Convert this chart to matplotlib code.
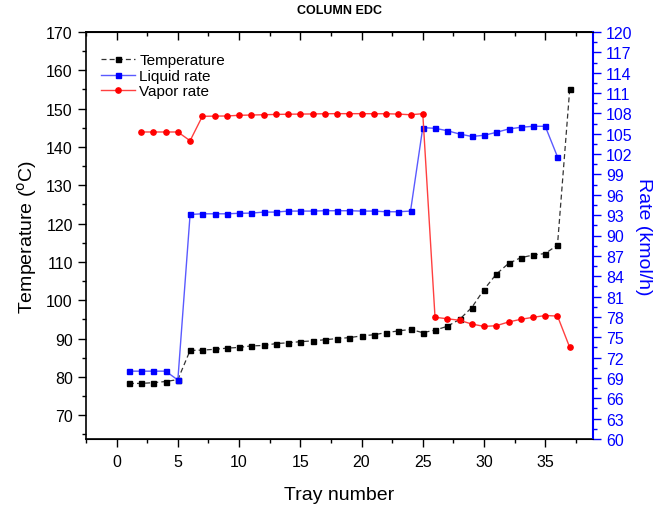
import matplotlib.pyplot as plt
from matplotlib.ticker import MultipleLocator
from matplotlib.lines import Line2D

plt.rcParams['font.family'] = ['Liberation Sans', 'DejaVu Sans']

# Temperature por plato
trays_t = list(range(1, 38))
temp = [78.3, 78.3, 78.5, 78.8, 79.3, 86.9, 87.0, 87.2, 87.5, 87.7,
        88.1, 88.2, 88.7, 88.9, 89.2, 89.4, 89.7, 90.0, 90.25, 90.7,
        91.0, 91.55, 92.0, 92.4, 91.55, 92.2, 93.2, 95.0, 98.1, 102.8,
        106.8, 109.6, 111.1, 111.8, 112.2, 114.4, 155.1]

# Liquid rate
trays_l = list(range(1, 37))
liquid = [70.0, 70.0, 70.0, 70.0, 68.7, 93.1, 93.2, 93.2, 93.2, 93.27,
          93.3, 93.45, 93.45, 93.6, 93.6, 93.6, 93.65, 93.65, 93.65, 93.6,
          93.6, 93.5, 93.5, 93.6, 105.9, 105.8, 105.45, 104.96, 104.6, 104.77,
          105.2, 105.7, 105.95, 106.1, 106.1, 101.6]

# Vapor rate
trays_v = list(range(2, 38))
vapor = [105.26, 105.26, 105.26, 105.26, 103.97, 107.57, 107.6, 107.62, 107.72, 107.76,
         107.8, 107.85, 107.88, 107.9, 107.92, 107.95, 107.96, 107.96, 107.96, 107.95,
         107.95, 107.9, 107.8, 107.96, 77.94, 77.73, 77.5, 76.95, 76.6, 76.7,
         77.25, 77.64, 77.94, 78.2, 78.13, 73.5]

fig = plt.figure(figsize=(6.63, 5.06), dpi=100)
ax = fig.add_axes([86/663, 66/506, 507/663, 407/506])
ax2 = ax.twinx()

ax.plot(trays_t, temp, color='#333333', ls=(0, (4, 2.5)), lw=0.9, marker='s', ms=3.6,
        mfc='black', mec='black', zorder=3)
ax2.plot(trays_l, liquid, color='#5a5aff', lw=1, marker='s', ms=3.6,
         mfc='blue', mec='blue')
ax2.plot(trays_v, vapor, color='#ff4040', lw=1, marker='o', ms=3.8,
         mfc='red', mec='red')

ax.set_xlim(-2.5, 38.9)
ax.set_ylim(63.8, 170)
ax2.set_ylim(60, 120)

ax.xaxis.set_major_locator(MultipleLocator(5))
ax.xaxis.set_minor_locator(MultipleLocator(2.5))
ax.yaxis.set_major_locator(MultipleLocator(10))
ax.yaxis.set_minor_locator(MultipleLocator(5))
ax2.yaxis.set_major_locator(MultipleLocator(3))
ax2.yaxis.set_minor_locator(MultipleLocator(1.5))

ax.tick_params(axis='x', which='major', direction='out', length=6, width=1, labelsize=11.5, pad=5)
ax.tick_params(axis='x', which='minor', direction='out', length=3, width=1)
ax.tick_params(axis='y', which='major', direction='out', length=6, width=1, labelsize=11.5)
ax.tick_params(axis='y', which='minor', direction='out', length=3, width=1)
ax2.tick_params(axis='y', which='major', direction='out', length=6, width=1,
                colors='blue', labelsize=11.5)
ax2.tick_params(axis='y', which='minor', direction='out', length=3, width=1, colors='blue')

# ticks on top edge pointing inward
top = ax.secondary_xaxis('top')
top.xaxis.set_major_locator(MultipleLocator(5))
top.xaxis.set_minor_locator(MultipleLocator(2.5))
top.tick_params(which='major', direction='in', length=6, width=1, labeltop=False)
top.tick_params(which='minor', direction='in', length=3, width=1)
top.spines['top'].set_linewidth(1.2)

for sp in ax.spines.values():
    sp.set_linewidth(1.2)
ax2.spines['right'].set_color('blue')
ax2.spines['right'].set_linewidth(1.5)
ax2.spines['left'].set_visible(False)

ax.set_xlabel('Tray number', fontsize=14, labelpad=12)
ax.set_ylabel('Temperature ($^{\\rm o}$C)', fontsize=14, labelpad=5)
ax2.set_ylabel('Rate (kmol/h)', fontsize=14, color='blue', rotation=-90, labelpad=14)
ax.set_title('COLUMN EDC', fontsize=9, fontweight='bold', pad=14)

handles = [
    Line2D([], [], color='#333333', ls=(0, (4, 2.5)), lw=0.9, marker='s', ms=3.6, mfc='black', mec='black'),
    Line2D([], [], color='#5a5aff', lw=1, marker='s', ms=3.6, mfc='blue', mec='blue'),
    Line2D([], [], color='#ff4040', lw=1, marker='o', ms=3.8, mfc='red', mec='red'),
]
ax.legend(handles, ['Temperature', 'Liquid rate', 'Vapor rate'], loc='upper left',
          frameon=False, fontsize=11, handlelength=2.2, handletextpad=0.3,
          labelspacing=0.1, borderaxespad=0.6, bbox_to_anchor=(0.0, 0.985))

fig.savefig('out.png', dpi=100)
